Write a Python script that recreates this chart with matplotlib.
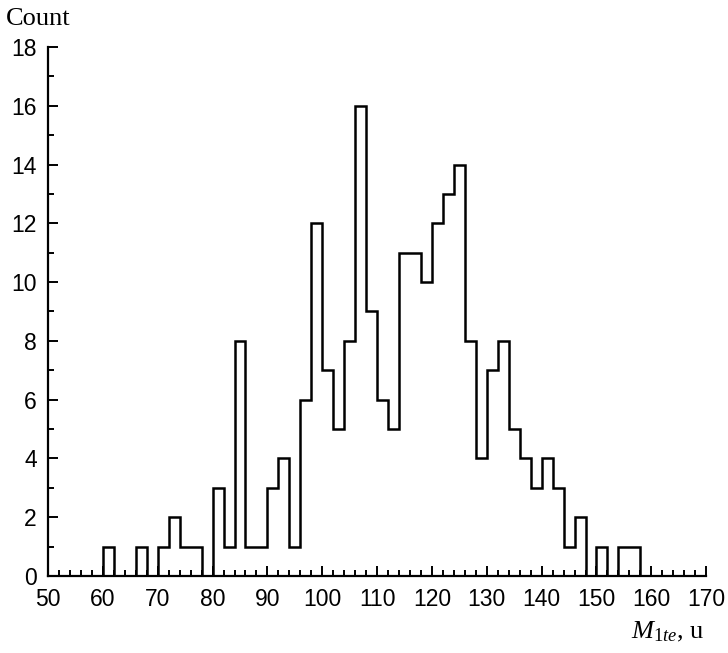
import matplotlib
matplotlib.use("Agg")
import matplotlib.pyplot as plt
from matplotlib.ticker import MultipleLocator

plt.rcParams["mathtext.fontset"] = "custom"
plt.rcParams["mathtext.rm"] = "Liberation Serif"
plt.rcParams["mathtext.it"] = "Liberation Serif:italic"

bin_edges = list(range(60, 160, 2))
counts = [1, 0, 0, 1, 0, 1, 2, 1, 1, 0,
          3, 1, 8, 1, 1, 3, 4, 1, 6, 12,
          7, 5, 8, 16, 9, 6, 5, 11, 11, 10,
          12, 13, 14, 8, 4, 7, 8, 5, 4, 3,
          4, 3, 1, 2, 0, 1, 0, 1, 1]
x_ticks = list(range(50, 171, 10))
y_ticks = list(range(0, 19, 2))

fig = plt.figure(figsize=(7.28, 6.53), dpi=100)
ax = fig.add_axes([0.066, 0.118, 0.904, 0.810])

ax.stairs(counts, bin_edges, baseline=0, fill=False, color="black", linewidth=1.8)

ax.set_xlim(50, 170)
ax.set_ylim(0, 18)
ax.set_xticks(x_ticks)
ax.set_yticks(y_ticks)
ax.xaxis.set_minor_locator(MultipleLocator(2))
ax.yaxis.set_minor_locator(MultipleLocator(1))

for s in ["top", "right"]:
    ax.spines[s].set_visible(False)
for s in ["left", "bottom"]:
    ax.spines[s].set_linewidth(1.6)

ax.tick_params(axis="both", which="major", direction="in", length=7.5, width=1.4,
               labelsize=16.5, colors="black")
ax.tick_params(axis="both", which="minor", direction="in", length=4, width=1.4)
ax.tick_params(axis="x", which="major", pad=9)
ax.tick_params(axis="y", which="major", pad=8)
for lab in ax.get_xticklabels() + ax.get_yticklabels():
    lab.set_family("Liberation Sans")

fig.text(0.008, 0.988, "Count", family="Liberation Serif", fontsize=19,
         ha="left", va="top")
fig.text(0.968, 0.014, r"$\mathit{M}_{\mathrm{1}\mathit{te}}$, u", family="Liberation Serif",
         fontsize=19, ha="right", va="bottom")

fig.savefig("out.png", dpi=100)
